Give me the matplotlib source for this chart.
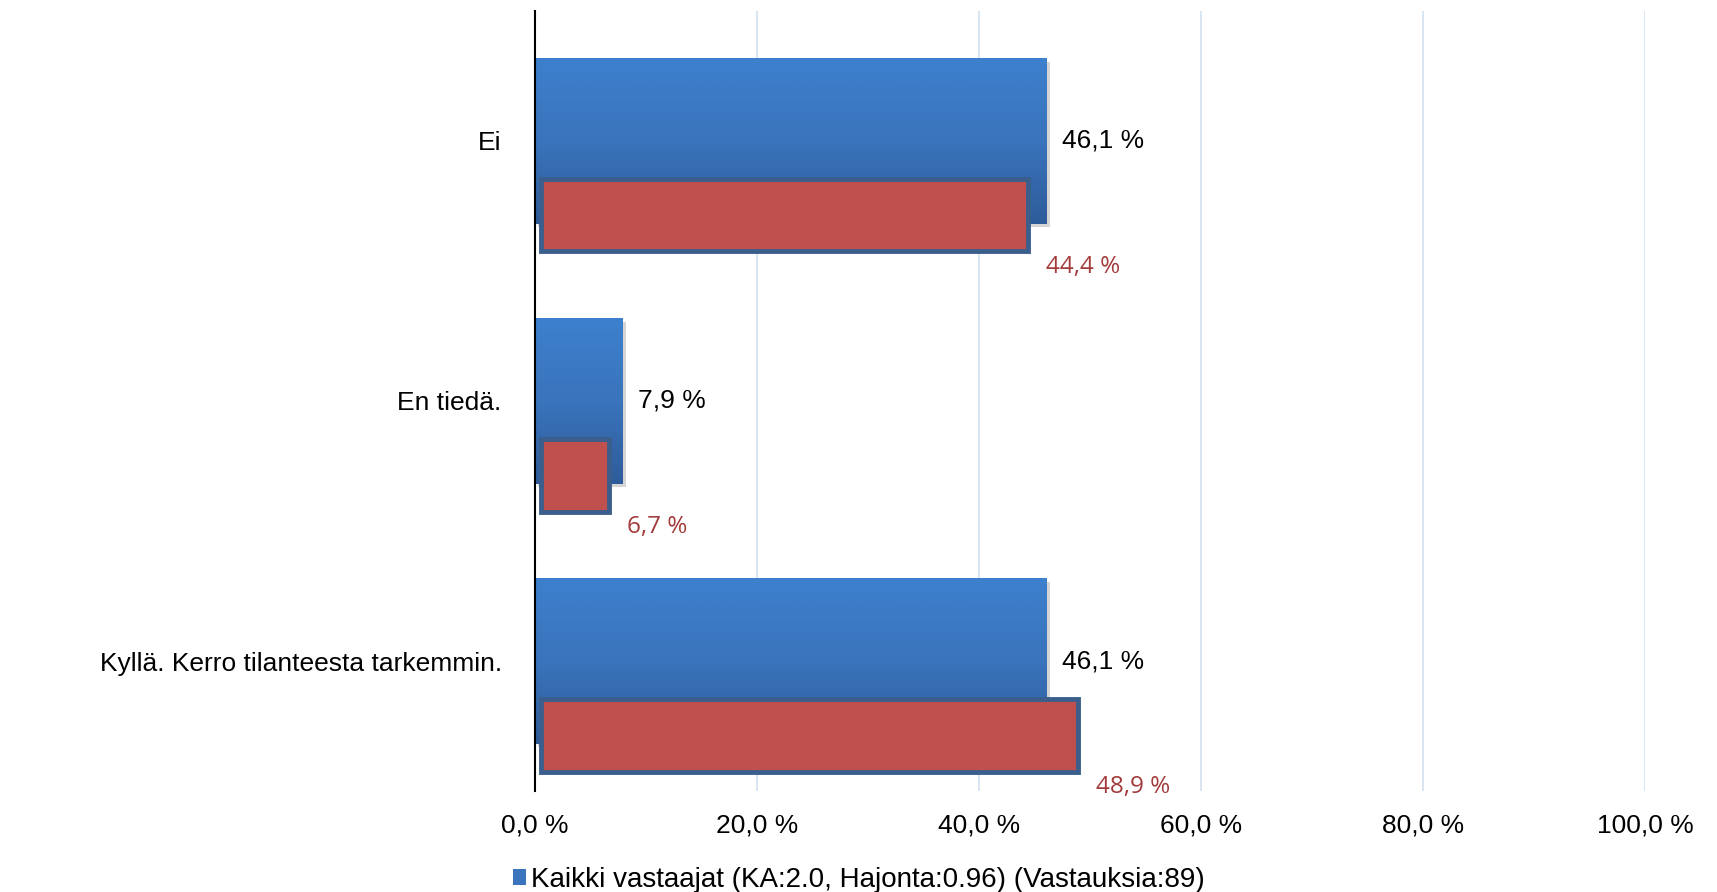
import numpy as np
import matplotlib
matplotlib.use("Agg")
import matplotlib.pyplot as plt
from matplotlib import patheffects as pe
from matplotlib.patches import Patch
from matplotlib.colors import LinearSegmentedColormap

categories = ["Ei", "En tiedä.", "Kyllä. Kerro tilanteesta tarkemmin."]
all_values = [46.1, 7.9, 46.1]
group_values = [44.4, 6.7, 48.9]
xticks = [0, 20, 40, 60, 80, 100]
xtick_labels = ["0,0 %", "20,0 %", "40,0 %", "60,0 %", "80,0 %", "100,0 %"]
legend_label = "Kaikki vastaajat (KA:2.0, Hajonta:0.96) (Vastauksia:89)"

plt.rcParams['font.family'] = ['Liberation Sans', 'DejaVu Sans']

fig = plt.figure(figsize=(17.17, 8.92), dpi=100)
ax = fig.add_axes([0.3116, 0.1132, 0.958 - 0.3116, 0.9877 - 0.1132])

y = np.arange(len(categories))
ax.set_ylim(2.5, -0.5)
ax.set_xlim(0, 100)

grad = np.linspace(0, 1, 256).reshape(-1, 1)
bcmap = LinearSegmentedColormap.from_list("b", ["#3D80CD", "#3A74BC", "#2E5C9A"])

blue_h = 0.636
bars = ax.barh(y, all_values, height=blue_h, color="#3A74BC", zorder=3,
               path_effects=[pe.SimplePatchShadow(offset=(2.5, -2.5), alpha=0.22,
                                                  shadow_rgbFace="#444444"), pe.Normal()])
for b in bars:
    x0, y0 = b.get_x(), b.get_y()
    w, h = b.get_width(), b.get_height()
    im = ax.imshow(grad, cmap=bcmap, aspect="auto", extent=(x0, x0 + w, y0 + h, y0),
                   zorder=3.5, interpolation="bicubic")
    im.set_clip_path(b)

red_off = 0.285
red_h = 0.28
ax.barh(y + red_off, [v - 0.5 for v in group_values], left=0.5, height=red_h,
        color="#C0504D", edgecolor="#3B5E8C", linewidth=3.5, zorder=4)

for yi, v in zip(y, all_values):
    ax.text(v + 1.4, yi, f"{v:.1f} %".replace(".", ","), va="center", ha="left",
            fontsize=19, color="black", zorder=6)
for yi, v in zip(y, group_values):
    ax.text(v + 1.6, yi + 0.485, f"{v:.1f} %".replace(".", ","), va="center", ha="left",
            fontsize=17.5, color="#A23B3A", family=["Open Sans", "DejaVu Sans"], zorder=6)

ax.set_yticks(y)
ax.set_yticklabels(categories, fontsize=19)
ax.set_xticks(xticks)
ax.set_xticklabels(xtick_labels, fontsize=19)
ax.tick_params(axis="both", length=0)
ax.tick_params(axis="y", pad=24)
ax.tick_params(axis="x", pad=16)
ax.grid(axis="x", color="#D5E3F0", linewidth=1.3, zorder=0)
ax.set_axisbelow(True)
for s in ["top", "right", "bottom"]:
    ax.spines[s].set_visible(False)
ax.spines["left"].set_color("black")
ax.spines["left"].set_linewidth(1.5)
ax.spines["left"].set_zorder(7)

handle = Patch(facecolor="#3A74BC", edgecolor="none")
fig.legend([handle], [legend_label], loc="lower center", bbox_to_anchor=(0.5, -0.007),
           frameon=False, fontsize=20, handlelength=0.5, handleheight=0.5, handletextpad=0.15,
           borderpad=0.1, borderaxespad=0.1)

fig.savefig("out.png", dpi=100, facecolor="white")
